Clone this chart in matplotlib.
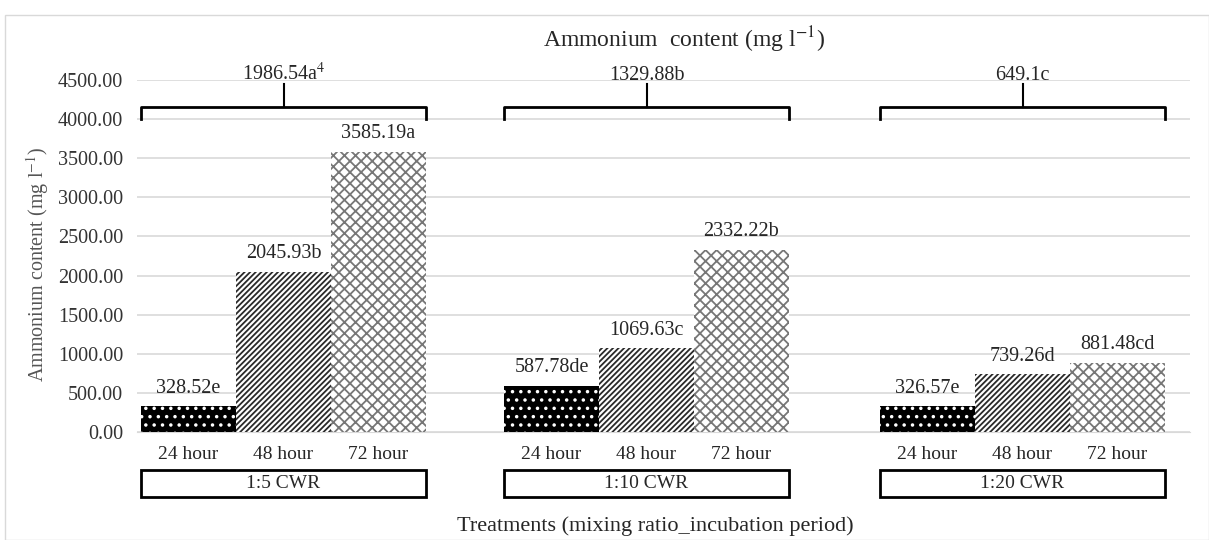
import matplotlib
matplotlib.use("Agg")
import matplotlib.pyplot as plt
from matplotlib.patches import Rectangle

plt.rcParams['font.family'] = ['Liberation Serif', 'DejaVu Serif']
plt.rcParams['mathtext.fontset'] = 'stix'
plt.rcParams['hatch.linewidth'] = 1.3

# data
groups = ['1:5 CWR', '1:10 CWR', '1:20 CWR']
periods = ['24 hour', '48 hour', '72 hour']
h24 = [328.52, 587.78, 326.57]
h48 = [2045.93, 1069.63, 739.26]
h72 = [3585.19, 2332.22, 881.48]
lab24 = ['328.52e', '587.78de', '326.57e']
lab48 = ['2045.93b', '1069.63c', '739.26d']
lab72 = ['3585.19a', '2332.22b', '881.48cd']
group_means = ['1986.54a$^{4}$', '1329.88b', '649.1c']
yticks = [0, 500, 1000, 1500, 2000, 2500, 3000, 3500, 4000, 4500]

# layout (x in pixel-like units)
group_left = [141, 504, 880]
bw = 95
txt = '#262626'

fig = plt.figure(figsize=(12.09, 5.4), dpi=100)
ax = fig.add_axes([137 / 1209, 1 - 432 / 540, (1190 - 137) / 1209, (432 - 80) / 540])
ax.set_xlim(137, 1190)
ax.set_ylim(0, 4500)

styles = [
    dict(facecolor='black', edgecolor='white', hatch='..', linewidth=0),
    dict(facecolor='white', edgecolor='#2a2a2a', hatch='//////', linewidth=0),
    dict(facecolor='white', edgecolor='#777777', hatch='xxx', linewidth=0),
]
series = [h24, h48, h72]
labels = [lab24, lab48, lab72]

for gi, gl in enumerate(group_left):
    for si in range(3):
        xc = gl + bw * si + bw / 2
        ax.bar(xc, series[si][gi], width=bw, zorder=3, **styles[si])
        ax.text(xc, series[si][gi] + 110, labels[si][gi], ha='center', va='bottom',
                fontsize=14.5, color=txt)
        ax.text(xc, -290, periods[si], ha='center', va='center', fontsize=14,
                color=txt)
    x0, x1 = gl, gl + 3 * bw
    xm = (x0 + x1) / 2
    # bracket above
    ax.plot([x0, x0, x1, x1], [4000, 4150, 4150, 4000], color='black', lw=2,
            clip_on=False, solid_joinstyle='round')
    ax.plot([xm, xm], [4150, 4450], color='black', lw=1.5, clip_on=False)
    ax.text(xm, 4430, group_means[gi], ha='center', va='bottom', fontsize=14.5,
            color=txt)
    # box below
    ax.add_patch(Rectangle((x0, -830), x1 - x0, 345, fill=False, edgecolor='black',
                           lw=2, clip_on=False))
    ax.text(xm, -660, groups[gi], ha='center', va='center', fontsize=14,
            color=txt)

ax.set_yticks(yticks)
ax.set_yticklabels([f'{v:.2f}' for v in yticks], fontsize=14.5, color='#333333')
ax.set_xticks([])
ax.tick_params(axis='y', length=0, pad=10)
ax.grid(axis='y', color='#d9d9d9', lw=1.2, zorder=0)
for s in ['top', 'right', 'left']:
    ax.spines[s].set_visible(False)
ax.spines['bottom'].set_color('#d9d9d9')

fig.text(38 / 1209, 1 - 264 / 540, 'Ammonium content (mg l$^{-1}$)', rotation=90,
         ha='center', va='center', fontsize=14.5, color='#555555')
fig.text(684 / 1209, 1 - 40 / 540, 'Ammonium  content (mg l$^{-1}$)', ha='center',
         va='center', fontsize=17, color=txt)
fig.text(655 / 1209, 1 - 526 / 540, 'Treatments (mixing ratio_incubation period)',
         ha='center', va='center', fontsize=16, color=txt)

fig.patches.append(Rectangle((5 / 1209, 0), 1 - 5 / 1209, 1 - 15 / 540, fill=False,
                             edgecolor='#d9d9d9', lw=1, transform=fig.transFigure))

fig.savefig('out.png', dpi=100)
